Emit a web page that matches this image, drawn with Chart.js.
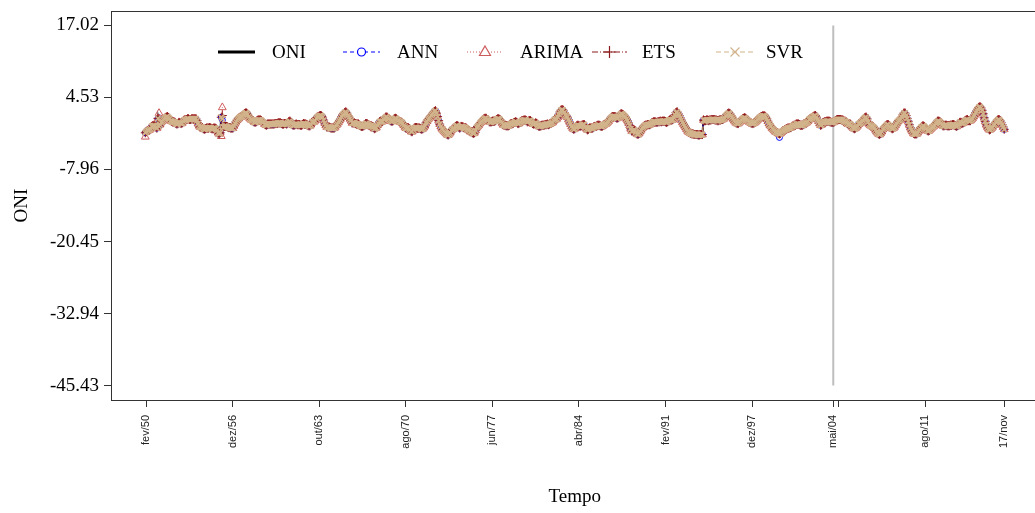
<!DOCTYPE html>
<html>
<head>
<meta charset="utf-8">
<script src="https://cdn.jsdelivr.net/npm/chart.js@4.4.1/dist/chart.umd.min.js"></script>
<style>
  html, body { margin: 0; padding: 0; background: #fff; overflow: hidden; }
  #wrap { width: 1044px; height: 513px; }
</style>
</head>
<body>
<div id="wrap"><canvas id="chart" width="1044" height="513"></canvas></div>
<script>
// monthly series, index 0 = jan/1950 ... 814 = nov/2017
const oniValues = [
  -1.6,-1.4,-1.2,-1.2,-1.1,-0.9,-0.5,-0.4,-0.4,-0.4,-0.6,-0.8, // 1950
  0.9,-0.5,-0.2,0.2,0.4,0.6,0.8,1.0,1.1,1.2,1.0,0.8,           // 1951
  0.5,0.4,0.3,0.3,0.2,0.0,-0.1,0.0,0.2,0.1,0.0,0.1,            // 1952
  0.4,0.6,0.6,0.7,0.8,0.8,0.7,0.7,0.8,0.8,0.8,0.8,             // 1953
  0.8,0.5,0.0,-0.4,-0.6,-0.6,-0.7,-0.9,-1.0,-0.9,-0.8,-0.8,    // 1954
  -0.8,-0.7,-0.8,-0.9,-0.9,-0.8,-0.8,-0.9,-1.2,-1.6,-1.8,-1.6, // 1955
  1.1,-0.8,-0.6,-0.5,-0.5,-0.5,-0.6,-0.7,-0.7,-0.8,-0.8,-0.8,  // 1956
  -0.4,0.0,0.3,0.6,0.8,1.0,1.1,1.2,1.3,1.5,1.7,1.8,            // 1957
  1.8,1.6,1.2,0.9,0.7,0.6,0.5,0.3,0.2,0.3,0.5,0.6,             // 1958
  0.6,0.6,0.5,0.3,0.2,-0.1,-0.2,-0.3,-0.1,-0.1,-0.1,-0.1,      // 1959
  -0.1,-0.1,-0.1,0.0,0.0,0.0,0.1,0.1,0.1,0.0,-0.1,-0.1,        // 1960
  0.0,0.0,-0.1,0.1,0.3,0.4,0.2,-0.1,-0.3,-0.3,-0.2,-0.1,       // 1961
  -0.2,-0.2,-0.2,-0.3,-0.3,-0.2,0.0,-0.1,-0.1,-0.2,-0.3,-0.4,  // 1962
  -0.4,-0.2,0.2,0.3,0.3,0.5,0.9,1.1,1.2,1.3,1.4,1.3,           // 1963
  1.1,0.6,0.1,-0.3,-0.6,-0.6,-0.6,-0.7,-0.8,-0.8,-0.8,-0.8,    // 1964
  -0.6,-0.3,-0.1,0.2,0.5,0.8,1.2,1.5,1.7,1.9,2.0,1.8,          // 1965
  1.4,1.1,0.8,0.5,0.1,0.1,0.1,0.0,-0.1,-0.1,-0.1,-0.3,         // 1966
  -0.4,-0.5,-0.5,-0.4,-0.2,0.0,0.0,-0.2,-0.3,-0.4,-0.4,-0.5,   // 1967
  -0.6,-0.9,-0.8,-0.7,-0.3,0.0,0.3,0.4,0.3,0.4,0.7,0.9,        // 1968
  1.1,1.1,0.9,0.8,0.6,0.4,0.4,0.5,0.8,0.9,0.8,0.6,             // 1969
  0.5,0.3,0.3,0.2,0.0,-0.3,-0.6,-0.8,-0.8,-0.7,-0.9,-1.1,      // 1970
  -1.4,-1.4,-1.1,-0.8,-0.7,-0.7,-0.8,-0.8,-0.8,-0.9,-1.0,-0.9, // 1971
  -0.7,-0.4,0.1,0.4,0.7,0.9,1.1,1.4,1.6,1.8,2.1,2.2,           // 1972
  1.8,1.2,0.5,-0.1,-0.5,-0.9,-1.1,-1.3,-1.5,-1.7,-1.9,-2.0,    // 1973
  -1.8,-1.6,-1.2,-1.0,-0.9,-0.8,-0.5,-0.4,-0.4,-0.6,-0.8,-0.6, // 1974
  -0.5,-0.6,-0.7,-0.7,-0.8,-1.0,-1.1,-1.2,-1.4,-1.4,-1.6,-1.7, // 1975
  -1.6,-1.2,-0.7,-0.5,-0.3,0.0,0.2,0.4,0.6,0.8,0.9,0.9,        // 1976
  0.7,0.6,0.3,0.3,0.3,0.4,0.4,0.4,0.5,0.7,0.8,0.8,             // 1977
  0.7,0.4,0.1,-0.2,-0.3,-0.3,-0.4,-0.4,-0.4,-0.3,-0.1,0.0,     // 1978
  0.0,0.1,0.2,0.3,0.2,0.0,0.0,0.2,0.3,0.5,0.5,0.6,             // 1979
  0.6,0.5,0.3,0.4,0.5,0.5,0.3,0.0,-0.1,0.0,0.1,0.0,            // 1980
  -0.3,-0.5,-0.5,-0.4,-0.3,-0.3,-0.3,-0.2,-0.2,-0.1,-0.2,-0.1, // 1981
  0.0,0.1,0.2,0.5,0.7,0.7,0.8,1.1,1.6,2.0,2.3,2.4,             // 1982
  2.3,1.9,1.5,1.3,1.1,0.7,0.3,-0.1,-0.5,-0.8,-1.0,-0.9,        // 1983
  -0.6,-0.4,-0.3,-0.4,-0.5,-0.4,-0.3,-0.2,-0.2,-0.6,-0.9,-1.1, // 1984
  -1.0,-0.8,-0.8,-0.8,-0.8,-0.6,-0.5,-0.5,-0.4,-0.3,-0.3,-0.4, // 1985
  -0.5,-0.5,-0.3,-0.2,-0.1,0.0,0.2,0.4,0.7,0.9,1.1,1.2,        // 1986
  1.2,1.2,1.1,0.9,1.0,1.2,1.5,1.7,1.6,1.5,1.3,1.1,             // 1987
  0.8,0.5,0.1,-0.3,-0.9,-1.3,-1.3,-1.1,-1.2,-1.5,-1.8,-1.9,    // 1988
  -1.7,-1.4,-1.1,-0.8,-0.6,-0.4,-0.3,-0.3,-0.2,-0.2,-0.2,-0.1, // 1989
  0.1,0.2,0.3,0.3,0.2,0.2,0.3,0.3,0.4,0.3,0.4,0.4,             // 1990
  0.4,0.3,0.2,0.3,0.5,0.6,0.7,0.6,0.7,1.0,1.5,1.9,             // 1991
  2.0,1.7,1.4,1.0,0.6,0.2,-0.1,-0.4,-0.7,-1.0,-1.3,-1.5,       // 1992
  -1.6,-1.7,-1.8,-1.8,-1.9,-1.9,-1.9,-1.9,-2.0,-2.0,-1.9,-1.9, // 1993
  -1.9,0.6,0.5,0.5,0.6,0.6,0.5,0.6,0.6,0.7,0.7,0.7,            // 1994
  0.6,0.6,0.5,0.5,0.6,0.6,0.7,0.7,0.8,1.0,1.3,1.5,             // 1995
  1.7,1.8,1.7,1.4,1.1,0.8,0.5,0.3,0.1,0.0,0.0,0.2,             // 1996
  0.4,0.6,0.8,0.9,1.0,0.9,0.7,0.5,0.3,0.2,0.1,0.0,             // 1997
  0.0,0.1,0.2,0.4,0.6,0.8,1.0,1.1,1.2,1.3,1.3,1.3,             // 1998
  1.1,0.8,0.4,0.0,-0.3,-0.5,-0.8,-1.0,-1.2,-1.4,-1.5,-1.6,     // 1999
  -1.7,-1.8,-1.7,-1.5,-1.3,-1.2,-1.1,-1.0,-0.9,-0.8,-0.8,-0.7, // 2000
  -0.7,-0.5,-0.4,-0.3,-0.3,-0.1,-0.1,-0.1,-0.2,-0.3,-0.3,-0.3, // 2001
  -0.1,0.0,0.1,0.2,0.4,0.7,0.8,0.9,1.0,1.2,1.3,1.4,            // 2002
  1.1,0.7,0.4,0.0,-0.3,-0.2,0.1,0.2,0.3,0.3,0.4,0.4,           // 2003
  0.4,0.3,0.2,0.2,0.2,0.3,0.5,0.6,0.7,0.7,0.7,0.7,             // 2004
  0.6,0.6,0.4,0.4,0.3,0.1,-0.1,-0.1,-0.1,-0.3,-0.6,-0.8,       // 2005
  -0.9,-0.8,-0.6,-0.4,-0.1,0.0,0.1,0.3,0.5,0.8,1.0,1.1,        // 2006
  0.8,0.3,-0.1,-0.3,-0.4,-0.5,-0.6,-0.8,-1.1,-1.4,-1.6,-1.8,   // 2007
  -1.9,-1.7,-1.4,-1.0,-0.8,-0.6,-0.4,-0.2,-0.2,-0.4,-0.6,-0.8, // 2008
  -0.9,-0.8,-0.6,-0.3,0.0,0.3,0.5,0.6,0.8,1.1,1.5,1.8,         // 2009
  1.8,1.4,0.9,0.4,-0.2,-0.7,-1.1,-1.4,-1.7,-1.8,-1.8,-1.8,     // 2010
  -1.6,-1.3,-1.0,-0.7,-0.6,-0.4,-0.5,-0.7,-0.9,-1.2,-1.3,-1.2, // 2011
  -1.0,-0.8,-0.6,-0.5,-0.3,0.0,0.2,0.4,0.4,0.3,0.1,-0.2,       // 2012
  -0.4,-0.4,-0.3,-0.3,-0.4,-0.4,-0.4,-0.3,-0.3,-0.2,-0.2,-0.3, // 2013
  -0.4,-0.5,-0.3,0.0,0.2,0.2,0.0,0.1,0.2,0.5,0.6,0.7,          // 2014
  0.5,0.5,0.5,0.7,0.9,1.2,1.5,1.9,2.2,2.5,2.8,2.9,             // 2015
  2.7,2.3,1.7,1.0,0.4,-0.2,-0.6,-0.9,-1.1,-1.0,-0.8,-0.6,      // 2016
  -0.3,-0.1,0.2,0.4,0.6,0.7,0.5,0.2,-0.2,-0.6,-1.0             // 2017 (jan-nov)
];

// the fitted models sit on the observed curve at this scale; only the visible departures are listed
const annFixes = [[13, 1.0], [73, 0.6], [601, -2.4]];
const arimaFixes = [[0, -2.3], [13, 1.8], [72, -2.2], [73, 2.8]];
const etsFixes = [[73, 1.4]];
const svrFixes = [[73, 0.8]];

const tickPositions = [1, 83, 165, 247, 329, 411, 493, 575, 652, 657, 739, 814];
const tickLabels = ['fev/50', 'dez/56', 'out/63', 'ago/70', 'jun/77', 'abr/84', 'fev/91', 'dez/97', 'mai/04', '', 'ago/11', '17/nov'];
const yTicks = [17.02, 4.53, -7.96, -20.45, -32.94, -45.43];
const splitIndex = 652;

function withFixes(base, fixes) {
  const out = base.slice();
  fixes.forEach(([i, v]) => { out[i] = v; });
  return out;
}
const toPoints = arr => arr.map((v, i) => ({ x: i, y: v }));

const annValues = withFixes(oniValues, annFixes);
const arimaValues = withFixes(oniValues, arimaFixes);
const etsValues = withFixes(oniValues, etsFixes);
const svrValues = withFixes(oniValues, svrFixes);

// legenda e moldura desenhadas à mão (estilo R)
const framePlugin = {
  id: 'frame',
  afterDraw(chart) {
    const { ctx, chartArea: a } = chart;
    ctx.save();
    ctx.strokeStyle = '#333';
    ctx.lineWidth = 1;
    ctx.setLineDash([]);
    ctx.strokeRect(a.left + 0.5, a.top + 0.5, a.right - a.left, a.bottom - a.top);

    const y = 52;
    const items = [
      { label: 'ONI', x0: 218, x1: 255, tx: 272, color: '#000000', lw: 3, dash: [], mk: null },
      { label: 'ANN', x0: 343, x1: 380, tx: 397, color: '#0000FF', lw: 1, dash: [4, 3], mk: 'circle' },
      { label: 'ARIMA', x0: 467, x1: 503, tx: 520, color: '#CD5C5C', lw: 1, dash: [1, 2], mk: 'triangle' },
      { label: 'ETS', x0: 592, x1: 627, tx: 642, color: '#8B1A1A', lw: 1, dash: [6, 2, 1, 2], mk: 'plus' },
      { label: 'SVR', x0: 716, x1: 754, tx: 766, color: '#D2B48C', lw: 1, dash: [5, 3], mk: 'x' }
    ];
    items.forEach(it => {
      ctx.strokeStyle = it.color;
      ctx.lineWidth = it.lw;
      ctx.setLineDash(it.dash);
      ctx.beginPath();
      ctx.moveTo(it.x0, y);
      ctx.lineTo(it.x1, y);
      ctx.stroke();
      ctx.setLineDash([]);
      ctx.lineWidth = 1.2;
      const cx = (it.x0 + it.x1) / 2;
      ctx.beginPath();
      if (it.mk === 'circle') {
        ctx.arc(cx, y, 4, 0, Math.PI * 2);
      } else if (it.mk === 'triangle') {
        ctx.moveTo(cx, y - 6);
        ctx.lineTo(cx + 5.5, y + 3.5);
        ctx.lineTo(cx - 5.5, y + 3.5);
        ctx.closePath();
      } else if (it.mk === 'plus') {
        ctx.moveTo(cx - 6, y); ctx.lineTo(cx + 6, y);
        ctx.moveTo(cx, y - 6); ctx.lineTo(cx, y + 6);
      } else if (it.mk === 'x') {
        ctx.moveTo(cx - 4.5, y - 4.5); ctx.lineTo(cx + 4.5, y + 4.5);
        ctx.moveTo(cx + 4.5, y - 4.5); ctx.lineTo(cx - 4.5, y + 4.5);
      }
      if (it.mk) {
        if (it.mk === 'circle' || it.mk === 'triangle') {
          ctx.fillStyle = '#fff';
          ctx.fill();
        }
        ctx.stroke();
      }
      ctx.fillStyle = '#000';
      ctx.font = '19px "Liberation Serif", "Times New Roman", serif';
      ctx.textBaseline = 'middle';
      ctx.textAlign = 'left';
      ctx.fillText(it.label, it.tx, y + 1);
    });
    ctx.restore();
  }
};

const serif = '"Liberation Serif", "Times New Roman", serif';

new Chart(document.getElementById('chart'), {
  type: 'line',
  data: {
    datasets: [
      { label: 'split', data: [{ x: splitIndex, y: yTicks[yTicks.length - 1] }, { x: splitIndex, y: yTicks[0] }],
        borderColor: '#BEBEBE', borderWidth: 2, pointRadius: 0, order: 6 },
      { label: 'ONI', data: toPoints(oniValues), borderColor: '#000000', borderWidth: 2, pointRadius: 0, order: 5 },
      { label: 'ANN', data: toPoints(annValues), borderColor: '#0000FF', borderWidth: 1, borderDash: [4, 3],
        pointStyle: 'circle', pointRadius: 3, pointBorderColor: '#0000FF', pointBackgroundColor: 'rgba(0,0,0,0)', pointBorderWidth: 1, order: 4 },
      { label: 'ARIMA', data: toPoints(arimaValues), borderColor: '#CD5C5C', borderWidth: 1, borderDash: [1, 2],
        pointStyle: 'triangle', pointRadius: 4.5, pointBorderColor: '#CD5C5C', pointBackgroundColor: 'rgba(0,0,0,0)', pointBorderWidth: 1, order: 3 },
      { label: 'ETS', data: toPoints(etsValues), borderColor: '#8B1A1A', borderWidth: 1, borderDash: [6, 2, 1, 2],
        pointStyle: 'cross', pointRadius: 4.5, pointBorderColor: '#8B1A1A', pointBorderWidth: 1, order: 2 },
      { label: 'SVR', data: toPoints(svrValues), borderColor: '#D2B48C', borderWidth: 1, borderDash: [5, 3],
        pointStyle: 'crossRot', pointRadius: 4, pointBorderColor: '#D2B48C', pointBorderWidth: 1.5, order: 1 }
    ]
  },
  options: {
    responsive: false,
    animation: false,
    devicePixelRatio: 1,
    events: [],
    layout: { padding: { top: 11, right: 2, left: 0, bottom: 0 } },
    plugins: { legend: { display: false }, tooltip: { enabled: false } },
    scales: {
      x: {
        type: 'linear',
        min: -32.5,
        max: 846.5,
        afterBuildTicks: s => { s.ticks = tickPositions.map(v => ({ value: v })); },
        afterFit: s => { s.height = 113; s.paddingLeft = 0; s.paddingRight = 0; },
        grid: { drawOnChartArea: false, drawTicks: true, tickLength: 7, color: '#333' },
        border: { display: true, color: '#333' },
        ticks: {
          autoSkip: false, minRotation: 90, maxRotation: 90, padding: 8,
          color: '#222', font: { family: '"Liberation Sans", Arial, sans-serif', size: 11 },
          callback: (v, i) => tickLabels[i]
        },
        title: { display: true, text: 'Tempo', color: '#000', font: { family: serif, size: 19 }, padding: { top: 0, bottom: 5 } }
      },
      y: {
        min: -47.93,
        max: 19.52,
        afterBuildTicks: s => { s.ticks = yTicks.map(v => ({ value: v })); },
        afterFit: s => { s.width = 111; s.paddingTop = 0; s.paddingBottom = 0; },
        grid: { drawOnChartArea: false, drawTicks: true, tickLength: 7, color: '#333' },
        border: { display: true, color: '#333' },
        ticks: {
          padding: 5, color: '#000', font: { family: serif, size: 19 },
          callback: v => v.toFixed(2)
        },
        title: { display: true, text: 'ONI', color: '#000', font: { family: serif, size: 19 }, padding: { top: 11, bottom: 0 } }
      }
    }
  },
  plugins: [framePlugin]
});
</script>
</body>
</html>
